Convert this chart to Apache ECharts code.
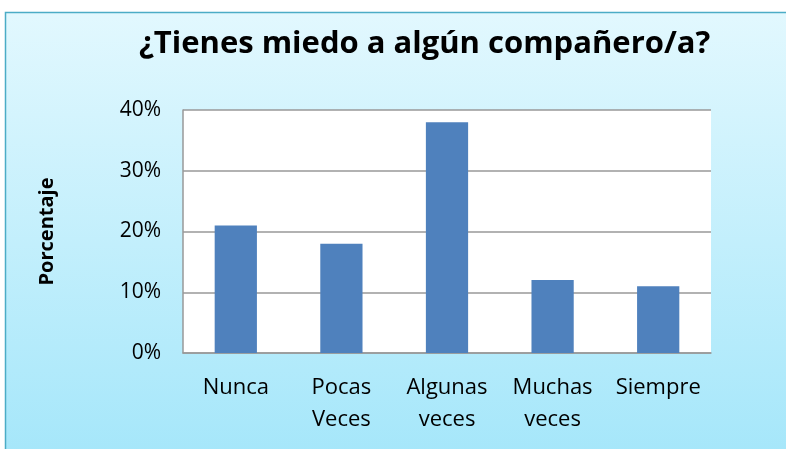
<!DOCTYPE html>
<html>
<head>
<meta charset="utf-8">
<style>
  html, body { margin: 0; padding: 0; background: #fff; }
  #chart { width: 786px; height: 449px; }
</style>
<script src="https://cdn.jsdelivr.net/npm/echarts@6/dist/echarts.min.js"></script>
</head>
<body>
<div id="chart"></div>
<script>
const categories = ['Nunca', 'Pocas\nVeces', 'Algunas\nveces', 'Muchas\nveces', 'Siempre']
const values = [21, 18, 38, 12, 11]
const yTicks = [0, 10, 20, 30, 40]

const chart = echarts.init(document.getElementById('chart'))

chart.setOption({
  backgroundColor: '#fff',
  animation: false,
  graphic: [
    {
      type: 'rect',
      z: -10,
      shape: { x: 5.5, y: 12.5, width: 800, height: 460 },
      style: {
        fill: new echarts.graphic.LinearGradient(0, 0, 0, 1, [
          { offset: 0, color: '#e2f8fe' },
          { offset: 1, color: '#a3e6fa' }
        ]),
        stroke: '#4bacc6',
        lineWidth: 1.5
      }
    }
  ],
  title: {
    text: '¿Tienes miedo a algún compañero/a?',
    left: 134,
    top: 24,
    textStyle: {
      fontFamily: 'Open Sans',
      fontWeight: 'bold',
      fontSize: 31,
      color: '#000'
    }
  },
  grid: {
    left: 183,
    right: 75,
    top: 110,
    bottom: 96,
    show: true,
    backgroundColor: '#fff',
    borderWidth: 0
  },
  xAxis: {
    type: 'category',
    data: categories,
    axisTick: { show: false },
    axisLine: { lineStyle: { color: '#999', width: 1.5 } },
    axisLabel: {
      color: '#000',
      fontFamily: 'Open Sans',
      fontSize: 22,
      lineHeight: 32,
      margin: 19,
      interval: 0
    }
  },
  yAxis: {
    type: 'value',
    min: 0,
    max: 40,
    interval: 10,
    name: 'Porcentaje',
    nameLocation: 'middle',
    nameGap: 126,
    nameRotate: 90,
    nameTextStyle: {
      color: '#000',
      fontFamily: 'Open Sans',
      fontWeight: 'bold',
      fontSize: 20
    },
    axisLine: { show: true, lineStyle: { color: '#999', width: 1.5 } },
    axisTick: { show: false },
    splitLine: { lineStyle: { color: '#999', width: 1.5 } },
    axisLabel: {
      color: '#000',
      fontFamily: 'Open Sans',
      fontSize: 21,
      margin: 22,
      formatter: function (v) {
        return yTicks.indexOf(v) >= 0 ? v + '%' : ''
      }
    }
  },
  series: [
    {
      type: 'bar',
      data: values,
      barWidth: '40%',
      itemStyle: { color: '#4f81bd' }
    }
  ]
})
</script>
</body>
</html>
